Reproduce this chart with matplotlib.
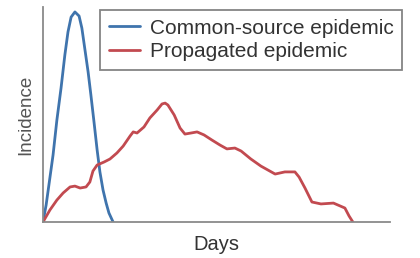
import matplotlib
matplotlib.use("Agg")
import matplotlib.pyplot as plt

plt.rcParams['font.family'] = ['Liberation Sans', 'DejaVu Sans']

# Common-source epidemic (days, incidence)
cs_days = [0, 0.9, 1.7, 2.9, 4.0, 5.2, 6.3, 7.2, 8.1, 9.2, 10.4, 11.2, 12.1,
           13.0, 13.8, 14.7, 15.6, 16.4, 17.3, 18.2, 19.0, 20.2]
cs_inc = [0, 7.9, 17.2, 31.2, 47.4, 62.3, 77.7, 88.4, 95.3, 97.7, 95.8, 90.2,
          80.0, 69.8, 59.1, 46.5, 33.5, 23.3, 14.9, 8.8, 4.2, 0]

# Propagated epidemic (days, incidence)
pr_days = [0, 2.0, 4.0, 5.8, 7.8, 9.2, 10.7, 12.4, 13.5, 14.4, 15.6, 17.6,
           19.3, 21.3, 23.1, 25.1, 26.0, 27.1, 29.1, 30.8, 32.9, 34.3, 35.2,
           36.0, 37.8, 39.5, 40.9, 42.7, 44.4, 46.4, 48.7, 51.0, 53.0, 55.3,
           57.1, 59.9, 62.8, 66.9, 69.7, 72.6, 73.8, 75.5, 77.5, 80.1, 83.7,
           87.0, 88.2, 89.3]
pr_inc = [0, 5.6, 10.2, 13.5, 16.3, 16.7, 15.8, 16.3, 18.6, 23.7, 26.5, 27.9,
          29.3, 32.1, 35.3, 40.0, 41.9, 41.4, 44.2, 48.4, 52.1, 54.9, 55.3,
          54.4, 49.8, 43.7, 40.9, 41.4, 41.9, 40.5, 38.1, 35.8, 34.0, 34.4,
          33.0, 29.3, 26.0, 22.3, 23.3, 23.3, 20.9, 15.8, 9.3, 8.4, 8.8, 6.5,
          2.8, 0]

fig = plt.figure(figsize=(4.2, 2.58), dpi=100)
ax = fig.add_axes([43/420, 1-222/258, (390-43)/420, (222-7)/258])

ax.plot(cs_days, cs_inc, color='#3f74ad', lw=2.0, label='Common-source epidemic',
        solid_capstyle='round', solid_joinstyle='round')
ax.plot(pr_days, pr_inc, color='#c24a50', lw=2.0, label='Propagated epidemic',
        solid_capstyle='round', solid_joinstyle='round')

ax.set_xlim(0, 100)
ax.set_ylim(0, 100)
ax.set_xticks([])
ax.set_yticks([])
for s in ['top', 'right']:
    ax.spines[s].set_visible(False)
for s in ['left', 'bottom']:
    ax.spines[s].set_color('#8a8a8a')
    ax.spines[s].set_linewidth(1.3)

ax.set_xlabel('Days', fontsize=14.5, color='#333333', labelpad=9)
ax.set_ylabel('Incidence', fontsize=13.5, color='#555555', labelpad=6)

leg = ax.legend(loc='upper right', bbox_to_anchor=(402/420, 1-10/258),
                bbox_transform=fig.transFigure, fontsize=15, frameon=True,
                fancybox=False, edgecolor='#666666', handlelength=1.5,
                handletextpad=0.45, borderpad=0.42, labelspacing=0.22,
                borderaxespad=0)
leg.get_frame().set_linewidth(1.3)
for t in leg.get_texts():
    t.set_color('#333333')

fig.savefig('out.png', dpi=100)
